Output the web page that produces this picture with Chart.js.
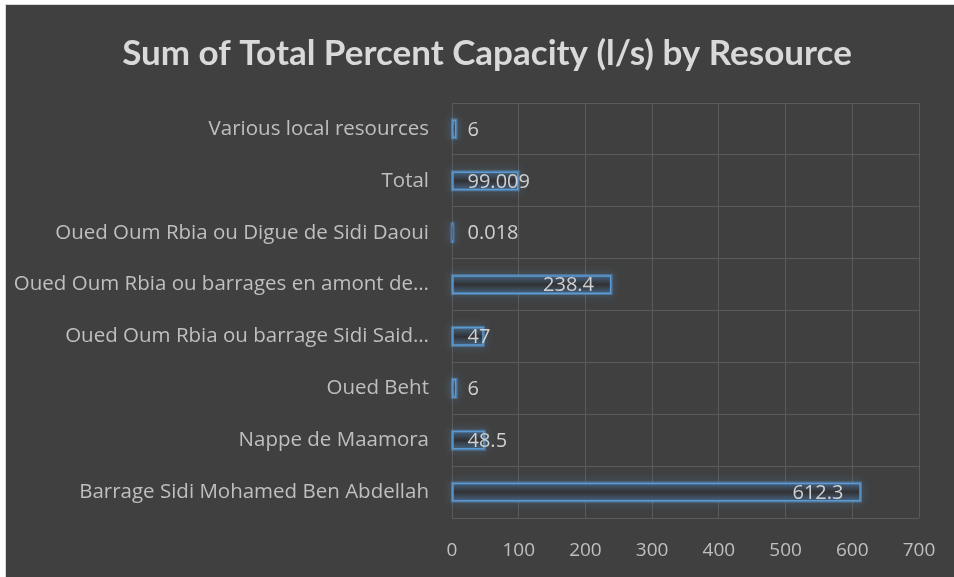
<!DOCTYPE html>
<html><head><meta charset="utf-8">
<script src="https://cdn.jsdelivr.net/npm/chart.js@4"></script>
<style>html,body{margin:0;padding:0;background:#fff}#c{display:block}</style>
</head><body>
<canvas id="c" width="954" height="577"></canvas>
<script>
const categories = [
  "Various local resources",
  "Total",
  "Oued Oum Rbia ou Digue de Sidi Daoui",
  "Oued Oum Rbia ou barrages en amont de\u2026",
  "Oued Oum Rbia ou barrage Sidi Said\u2026",
  "Oued Beht",
  "Nappe de Maamora",
  "Barrage Sidi Mohamed Ben Abdellah"
];
const values = [6, 99.009, 0.018, 238.4, 47, 6, 48.5, 612.3];
const valueLabels = ["6", "99.009", "0.018", "238.4", "47", "6", "48.5", "612.3"];
const xTicks = [0, 100, 200, 300, 400, 500, 600, 700];
const titleText = 'Sum of Total Percent Capacity (l/s) by Resource';

const FONT = "'Open Sans', 'DejaVu Sans', sans-serif";
const TXT = '#bfbfbf';
const BAR_H = 18;

const bgPlugin = {
  id: 'bg',
  beforeDraw(chart) {
    const c = chart.ctx;
    c.save();
    c.fillStyle = '#ffffff';
    c.fillRect(0, 0, chart.width, chart.height);
    c.fillStyle = '#d9d9d9';
    c.fillRect(5, 4, chart.width - 5, chart.height - 4);
    c.fillStyle = '#404040';
    c.fillRect(6, 5, chart.width - 6, chart.height - 5);
    c.restore();
  },
  afterDraw(chart) {
    const c = chart.ctx;
    c.save();
    c.font = "bold 35px Lato, 'Open Sans', sans-serif";
    c.fillStyle = '#d9d9d9';
    c.textAlign = 'center';
    c.textBaseline = 'middle';
    c.fillText(titleText, 487, 54);
    c.restore();
  }
};

const glowPlugin = {
  id: 'glow',
  beforeDatasetsDraw(chart) {
    const c = chart.ctx;
    const meta = chart.getDatasetMeta(0);
    c.save();
    c.strokeStyle = 'rgba(91,155,213,0.55)';
    c.lineWidth = 3;
    c.shadowColor = 'rgba(91,155,213,0.85)';
    c.shadowBlur = 9;
    meta.data.forEach(bar => {
      const h = bar.height;
      const l = Math.min(bar.base, bar.x), r = Math.max(bar.base, bar.x);
      c.strokeRect(l, bar.y - h / 2, Math.max(r - l, 1), h);
    });
    c.restore();
  },
  afterDatasetsDraw(chart) {
    const c = chart.ctx;
    const meta = chart.getDatasetMeta(0);
    c.save();
    c.font = '20px ' + FONT;
    c.fillStyle = '#d0d0d0';
    c.textBaseline = 'middle';
    c.textAlign = 'left';
    meta.data.forEach((bar, i) => {
      const txt = valueLabels[i];
      const w = c.measureText(txt).width;
      const x = Math.max(bar.base + 15, bar.x - 17 - w);
      c.fillText(txt, x, bar.y + 1);
    });
    c.restore();
  }
};

function barFill(ctx) {
  const chart = ctx.chart;
  const ys = chart.scales.y;
  if (!ys || ctx.dataIndex === undefined) return '#383838';
  const yc = ys.getPixelForValue(ctx.dataIndex);
  if (!isFinite(yc)) return '#383838';
  const g = chart.ctx.createLinearGradient(0, yc - BAR_H / 2, 0, yc + BAR_H / 2);
  g.addColorStop(0, 'rgba(70,100,130,0.95)');
  g.addColorStop(0.5, 'rgba(48,48,50,0.95)');
  g.addColorStop(1, 'rgba(70,100,130,0.95)');
  return g;
}

new Chart(document.getElementById('c'), {
  type: 'bar',
  data: {
    labels: categories,
    datasets: [{
      data: values,
      backgroundColor: barFill,
      borderColor: '#5b9bd5',
      borderWidth: 1.5,
      borderSkipped: false,
      barThickness: BAR_H
    }]
  },
  options: {
    indexAxis: 'y',
    responsive: false,
    animation: false,
    devicePixelRatio: 1,
    layout: { padding: { top: 103, left: 6, right: 35, bottom: 0 } },
    plugins: {
      legend: { display: false },
      tooltip: { enabled: false },
      title: { display: false }
    },
    scales: {
      x: {
        min: 0, max: 700,
        afterBuildTicks(scale) { scale.ticks = xTicks.map(v => ({ value: v })); },
        afterFit(scale) { scale.height = 59; scale.paddingRight = 0; scale.paddingLeft = 0; },
        grid: { color: '#5a5a5a', lineWidth: 1, drawTicks: false },
        border: { display: false },
        ticks: { color: TXT, font: { family: FONT, size: 19 }, padding: 21 }
      },
      y: {
        afterFit(scale) { scale.width = 446; scale.paddingTop = 0; scale.paddingBottom = 0; },
        grid: { color: '#5a5a5a', lineWidth: 1, drawTicks: false, offset: true },
        border: { display: false },
        ticks: { color: TXT, font: { family: FONT, size: 20.5 }, padding: 23, autoSkip: false }
      }
    }
  },
  plugins: [bgPlugin, glowPlugin]
});
</script>
</body></html>
